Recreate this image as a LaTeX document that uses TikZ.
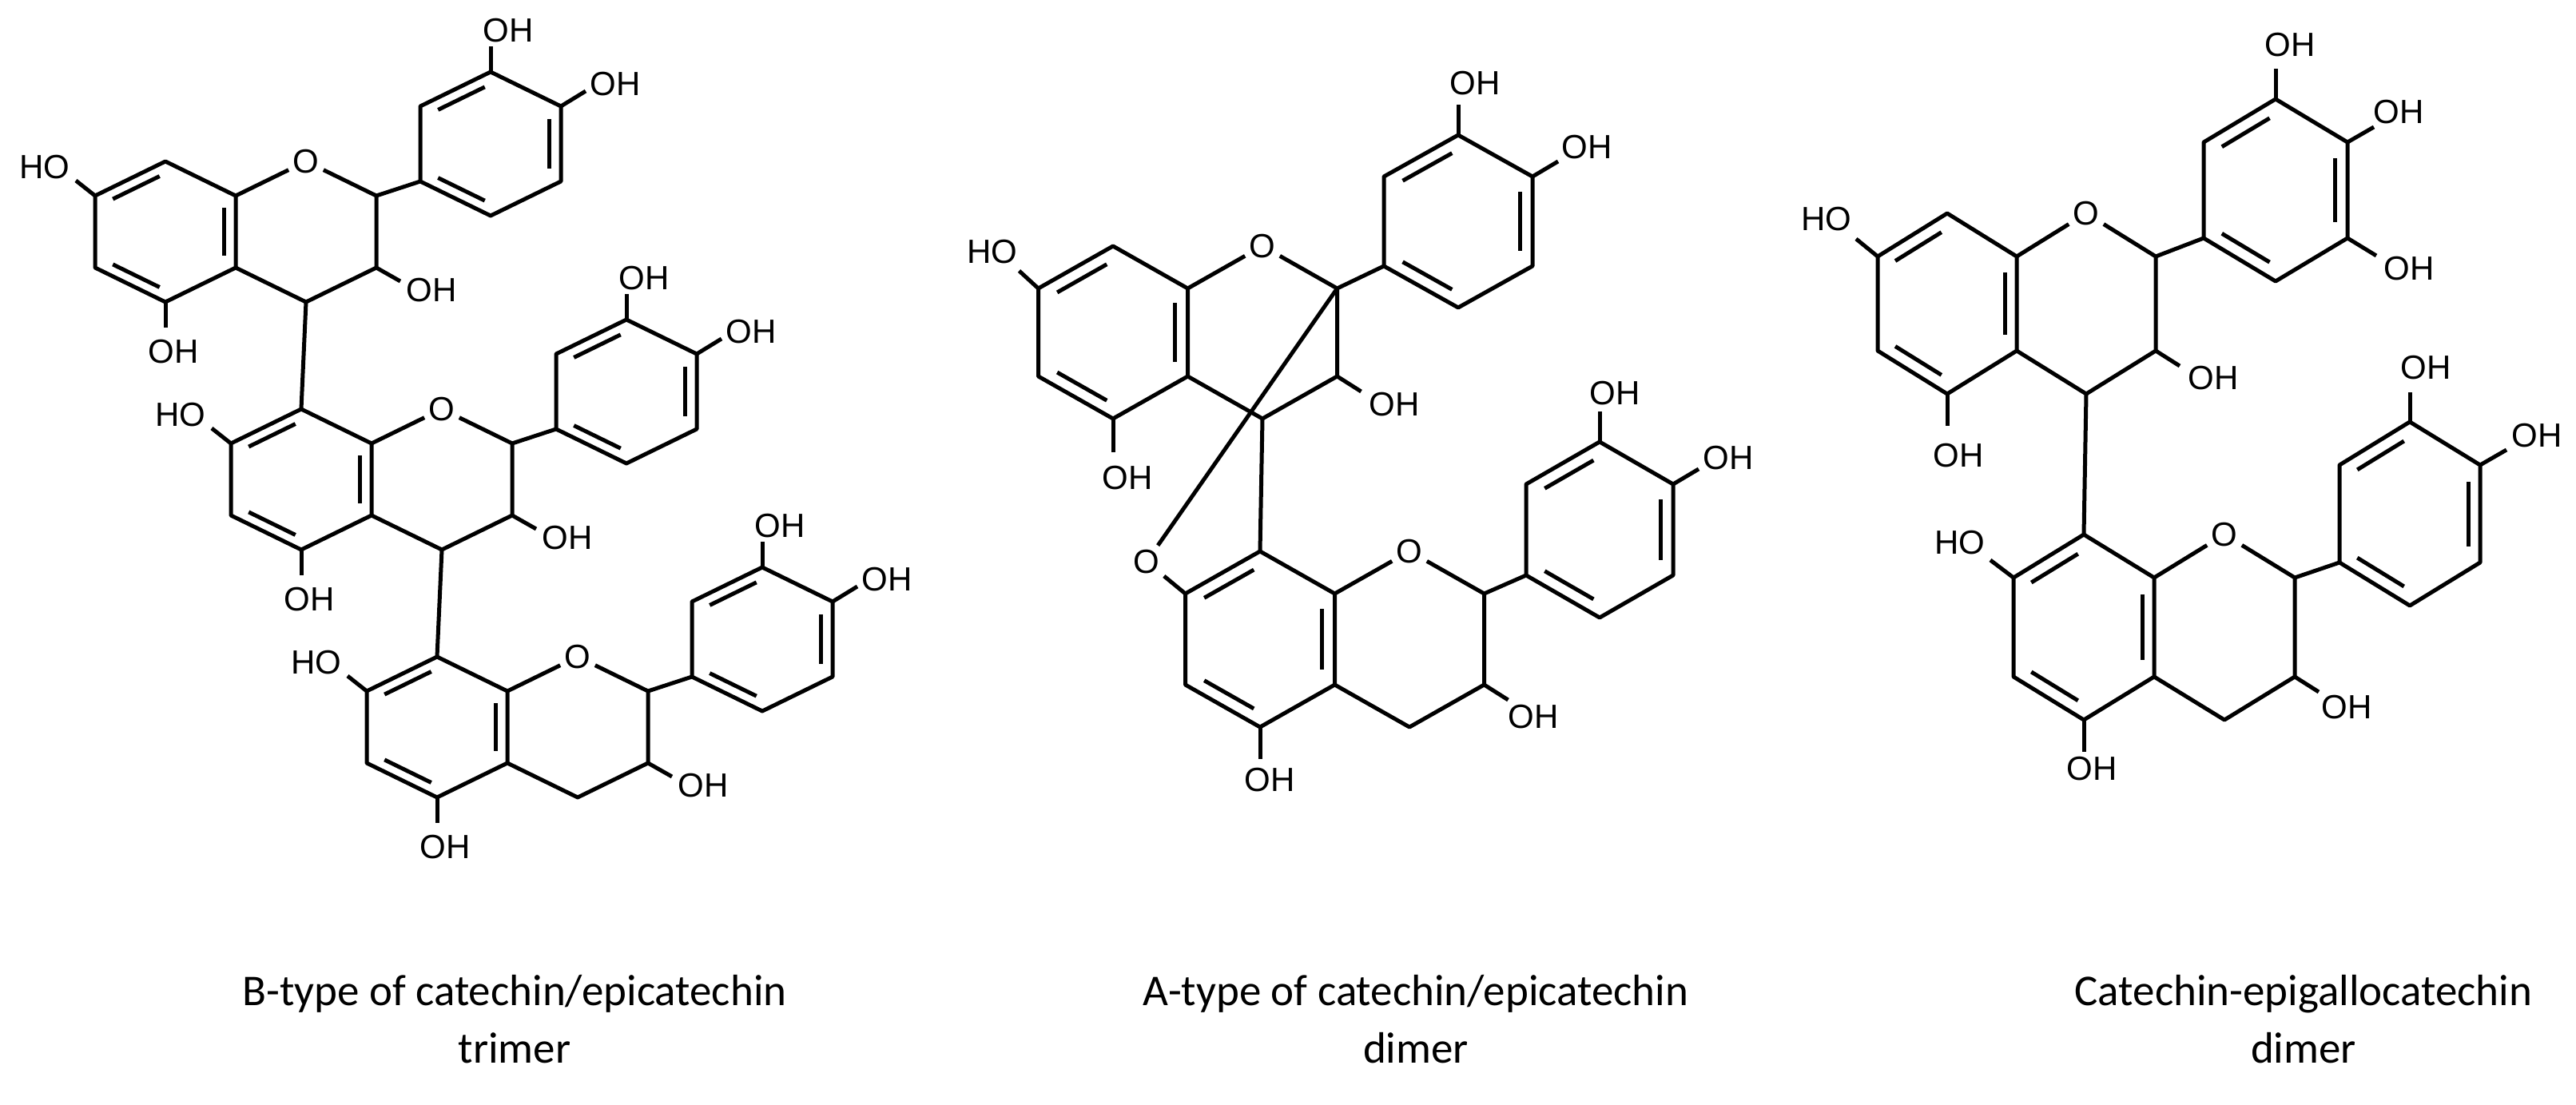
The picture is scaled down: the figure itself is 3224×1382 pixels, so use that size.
\documentclass[tikz,border=0pt]{standalone}
\usepackage{fontspec}
\setmainfont{Liberation Sans}
\newfontfamily\capfont{Carlito}
\usetikzlibrary{calc}
\newcommand\ringco[6]{%
 \coordinate (#1) at (#2,#3);
 \coordinate (#1t) at (#2,#3-#5);
 \coordinate (#1ur) at (#2+#4,#3-#6);
 \coordinate (#1lr) at (#2+#4,#3+#6);
 \coordinate (#1b) at (#2,#3+#5);
 \coordinate (#1ll) at (#2-#4,#3+#6);
 \coordinate (#1ul) at (#2-#4,#3-#6);}
\newcommand\dbond[3]{%
 \coordinate (da) at ($(#1)!0.17!(#3)$);
 \coordinate (db) at ($(#2)!0.17!(#3)$);
 \draw ($(da)!0.1!(db)$) -- ($(db)!0.1!(da)$);}
\newcommand\benz[1]{%
 \draw (#1t)--(#1ur)--(#1lr)--(#1b)--(#1ll)--(#1ul)--cycle;
 \dbond{#1t}{#1ul}{#1}\dbond{#1ur}{#1lr}{#1}\dbond{#1b}{#1ll}{#1}}
\newcommand\pyran[1]{%
 \node[atom] (#1O) at (#1Ct) {O};
 \draw (#1Aur) -- (#1O) -- (#1Cur) -- (#1Clr) -- (#1Cb) -- (#1Alr);}
\newcommand\subst[6]{%
 \draw (#1) -- ++(#2,#3) coordinate (#1x);
 \node[lab] at (#4,#5) {#6};}
\newcommand\triunit[3]{%
 \ringco{#1A}{207+#2}{290+#3}{88}{88}{45}
 \ringco{#1C}{383+#2}{290+#3}{88}{88}{45}
 \ringco{#1B}{614+#2}{180+#3}{88}{90}{47}
 \benz{#1A}\benz{#1B}\pyran{#1}
 \draw (#1Cur) -- (#1Bll);
 \subst{#1Bt}{0}{-32}{636+#2}{38+#3}{OH}
 \subst{#1Bur}{31}{-19}{770+#2}{105+#3}{OH}
 \subst{#1Aul}{-24}{-19}{56+#2}{209+#3}{HO}
 \subst{#1Ab}{0}{32}{217+#2}{440+#3}{OH}
 \subst{#1Clr}{30}{17}{540+#2}{363+#3}{OH}}
\begin{document}
\begin{tikzpicture}[x=1pt,y=-1pt,line width=5pt,line join=round,
  atom/.style={font=\fontsize{42}{44}\selectfont,inner sep=3pt},
  lab/.style={font=\fontsize{42}{44}\selectfont,inner sep=0pt},
  capt/.style={font=\capfont\fontsize{55}{72}\selectfont,align=center}]
\useasboundingbox (0,0) rectangle (3224,1382);
% trimer
\triunit{u}{0}{0}
\triunit{v}{170}{310}
\triunit{w}{340}{620}
\draw (uCb) -- (vAt);
\draw (vCb) -- (wAt);
% A-type dimer
\ringco{aA}{1393}{416}{93.5}{108}{55}
\ringco{aC}{1580}{416}{93.5}{108}{55}
\ringco{aB}{1825}{277}{93}{108}{56}
\ringco{bA}{1577}{800}{93.5}{110}{57}
\ringco{bC}{1764}{800}{93.5}{110}{57}
\ringco{bB}{2002}{663}{92}{110}{57}
\benz{aA}\benz{aB}\benz{bA}\benz{bB}
\pyran{a}\pyran{b}
\draw (aCur) -- (aBll);
\draw (bCur) -- (bBll);
\draw (aCb) -- (bAt);
\node[atom] (bO2) at (1435,703) {O};
\draw (bAul) -- (bO2) -- (aCur);
\subst{aBt}{0}{-38}{1846}{104}{OH}
\subst{aBur}{32}{-19}{1986}{184}{OH}
\subst{aAul}{-24}{-22}{1242}{315}{HO}
\subst{aAb}{0}{42}{1411}{598}{OH}
\subst{aClr}{30}{19}{1745}{506}{OH}
\subst{bBt}{0}{-38}{2021}{492}{OH}
\subst{bBur}{32}{-19}{2163}{573}{OH}
\subst{bAb}{0}{40}{1589}{976}{OH}
\subst{bClr}{30}{19}{1919}{897}{OH}
% catechin-epigallocatechin dimer
\ringco{cA}{2437}{380}{87}{113}{59}
\ringco{cC}{2611}{380}{87}{113}{59}
\ringco{cB}{2848}{238}{90}{114}{60}
\ringco{dA}{2608}{785}{88}{116}{62}
\ringco{dC}{2784}{785}{88}{116}{62}
\ringco{dB}{3016}{643}{88}{115}{61}
\benz{cA}\benz{cB}\benz{dA}\benz{dB}
\pyran{c}\pyran{d}
\draw (cCur) -- (cBll);
\draw (dCur) -- (dBll);
\draw (cCb) -- (dAt);
\subst{cBt}{0}{-38}{2866}{56}{OH}
\subst{cBur}{33}{-19}{3002}{140}{OH}
\subst{cBlr}{36}{22}{3015}{336}{OH}
\subst{cAul}{-27}{-22}{2286}{274}{HO}
\subst{cAb}{0}{40}{2451}{570}{OH}
\subst{cClr}{30}{19}{2770}{473}{OH}
\subst{dBt}{0}{-37}{3036}{460}{OH}
\subst{dBur}{33}{-19}{3175}{545}{OH}
\subst{dAul}{-29}{-22}{2453}{679}{HO}
\subst{dAb}{0}{40}{2618}{962}{OH}
\subst{dClr}{30}{19}{2937}{885}{OH}
% captions
\node[capt] (c1) at (644,1276) {B-type of catechin/epicatechin\\trimer};
\node[capt] (c2) at (1772,1276) {A-type of catechin/epicatechin\\dimer};
\node[capt] (c3) at (2883,1276) {Catechin-epigallocatechin\\dimer};
\end{tikzpicture}
\end{document}
